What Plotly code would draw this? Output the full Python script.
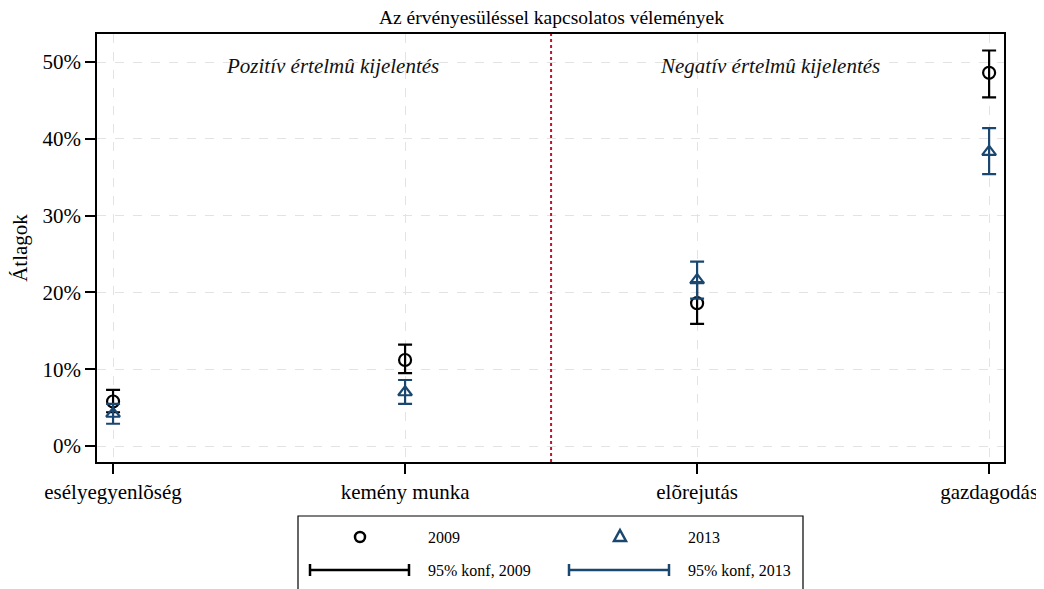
import plotly.graph_objects as go

# category labels and means (percent)
categories = ["esélyegyenlõség", "kemény munka", "elõrejutás", "gazdagodás"]
mean_2009 = [5.8, 11.2, 18.6, 48.6]
low_2009 = [4.4, 9.5, 15.9, 45.4]
high_2009 = [7.3, 13.2, 21.3, 51.5]
mean_2013 = [4.2, 7.0, 21.6, 38.3]
low_2013 = [2.9, 5.5, 19.2, 35.4]
high_2013 = [5.5, 8.6, 24.0, 41.4]
y_ticks = [0, 10, 20, 30, 40, 50]

black = "#000000"
navy = "#1a476f"
serif = "Liberation Serif, Times New Roman, serif"

xpos = list(range(len(categories)))

fig = go.Figure()

for means, lo, hi, col, sym in [
    (mean_2009, low_2009, high_2009, black, "circle-open"),
    (mean_2013, low_2013, high_2013, navy, "triangle-up-open"),
]:
    fig.add_trace(go.Scatter(
        x=xpos, y=means, mode="markers",
        marker=dict(symbol=sym, size=12, color=col, line=dict(width=2.2, color=col)),
        error_y=dict(type="data", symmetric=False,
                     array=[h - m for h, m in zip(hi, means)],
                     arrayminus=[m - l for m, l in zip(means, lo)],
                     color=col, thickness=2.2, width=7),
        showlegend=False,
    ))

# dotted separator between positive and negative statements
fig.add_shape(type="line", xref="x", yref="paper", x0=1.5, x1=1.5, y0=0, y1=1,
              line=dict(color="#c8102e", width=2, dash="dot"))

fig.add_annotation(x=0.75, y=49.5, text="<i>Pozitív értelmû kijelentés</i>", showarrow=False,
                   font=dict(family=serif, size=21, color="#111"))
fig.add_annotation(x=2.25, y=49.5, text="<i>Negatív értelmû kijelentés</i>", showarrow=False,
                   font=dict(family=serif, size=21, color="#111"))

# page body has an 8px margin, so the figure is drawn 8px smaller and offset
OFF = 8
FW, FH = 1044 - OFF, 589 - OFF
L, T, W, H = 97 - OFF, 34 - OFF, 907, 428
def px(x): return (x - OFF - L) / W
def py(y): return (T + H - (y - OFF)) / H

# hand-made legend below the plot
fig.add_shape(type="rect", xref="paper", yref="paper", x0=px(298), x1=px(803), y0=py(516), y1=py(605),
              line=dict(color="black", width=1.2), fillcolor="white")
fig.add_shape(type="circle", xref="paper", yref="paper", x0=px(355), x1=px(365), y0=py(532), y1=py(542),
              line=dict(color=black, width=2.5))
fig.add_shape(type="path", xref="paper", yref="paper",
              path=f"M {px(614)} {py(541)} L {px(626)} {py(541)} L {px(620)} {py(530)} Z",
              line=dict(color=navy, width=2.5))
for x0, x1, col in [(310, 409, black), (569, 669, navy)]:
    fig.add_shape(type="line", xref="paper", yref="paper", x0=px(x0), x1=px(x1), y0=py(570), y1=py(570),
                  line=dict(color=col, width=2.5))
    for xc in (x0, x1):
        fig.add_shape(type="line", xref="paper", yref="paper", x0=px(xc), x1=px(xc), y0=py(564), y1=py(576),
                      line=dict(color=col, width=2.5))
for x, y, t in [(426, 537, "2009"), (686, 537, "2013"), (426, 570, "95% konf, 2009"), (686, 570, "95% konf, 2013")]:
    fig.add_annotation(xref="paper", yref="paper", x=px(x), y=py(y), text=t, showarrow=False,
                       xanchor="left", yanchor="middle", font=dict(family=serif, size=16, color="black"))

# title as a plain annotation, centred over the plot
fig.add_annotation(xref="paper", yref="paper", x=px(551), y=py(17), text="Az érvényesüléssel kapcsolatos vélemények",
                   showarrow=False, xanchor="center", yanchor="middle",
                   font=dict(family=serif, size=19.5, color="black"))

fig.update_layout(
    width=FW, height=FH,
    margin=dict(l=L, r=FW - L - W, t=T, b=FH - T - H, autoexpand=False),
    paper_bgcolor="white", plot_bgcolor="white",
    font=dict(family=serif, size=21, color="black"),
)
fig.update_xaxes(
    range=[-0.055, 3.051], tickvals=xpos, ticktext=categories, automargin=False,
    ticks="outside", ticklen=10, tickwidth=1.5, tickcolor="black",
    showline=True, linecolor="black", linewidth=1.5, mirror=True,
    showgrid=True, gridcolor="#e3e3e3", griddash="dash", gridwidth=1.2,
    zeroline=False, tickfont=dict(family=serif, size=21),
)
fig.update_yaxes(
    range=[-2.08, 53.65], tickvals=y_ticks, ticktext=[f"{v}%" for v in y_ticks], automargin=False,
    ticks="outside", ticklen=10, tickwidth=1.5, tickcolor="black",
    showline=True, linecolor="black", linewidth=1.5, mirror=True,
    showgrid=True, gridcolor="#e3e3e3", griddash="dash", gridwidth=1.2,
    zeroline=False, tickfont=dict(family=serif, size=21),
    title=dict(text="Átlagok", font=dict(family=serif, size=21), standoff=10),
)

fig.write_html("out.html")
